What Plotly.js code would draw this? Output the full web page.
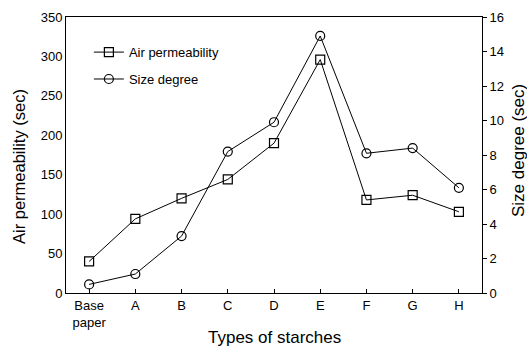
<!DOCTYPE html>
<html>
<head>
<meta charset="utf-8">
<script src="https://cdn.plot.ly/plotly-3.0.1.min.js"></script>
<style>html,body{margin:0;padding:0;background:#fff;}#chart{width:527px;height:348px;}</style>
</head>
<body>
<div id="chart"></div>
<script>
const categories = ["Base<br>paper", "A", "B", "C", "D", "E", "F", "G", "H"];
const airPermeability = [40, 94, 120, 144, 190, 296, 118, 124, 103];
const sizeDegree = [0.5, 1.1, 3.3, 8.2, 9.9, 14.9, 8.1, 8.4, 6.1];
const leftTicks = [0, 50, 100, 150, 200, 250, 300, 350];
const rightTicks = [0, 2, 4, 6, 8, 10, 12, 14, 16];

const fontFam = "Liberation Sans, Arial, sans-serif";
const xIdx = categories.map((c, i) => i);

const traces = [
  {
    x: xIdx, y: airPermeability, name: "Air permeability", type: "scatter", mode: "lines+markers",
    legendgroup: "a",
    line: {color: "#000", width: 1},
    marker: {symbol: "square-open", size: 9, color: "#000", line: {width: 1.2, color: "#000"}},
    yaxis: "y"
  },
  {
    x: xIdx, y: sizeDegree, name: "Size degree", type: "scatter", mode: "lines+markers",
    legendgroup: "b",
    line: {color: "#000", width: 1},
    marker: {symbol: "circle-open", size: 9, color: "#000", line: {width: 1.2, color: "#000"}},
    yaxis: "y2"
  }
];

const layout = {
  width: 527, height: 348,
  margin: {l: 66, r: 45, t: 17, b: 55},
  paper_bgcolor: "#fff", plot_bgcolor: "#fff",
  font: {family: fontFam, color: "#000", size: 13},
  showlegend: true,
  legend: {x: 0.055, y: 0.927, xanchor: "left", yanchor: "top", bgcolor: "rgba(0,0,0,0)",
    font: {size: 13, family: fontFam}, tracegroupgap: 7, itemwidth: 30},
  xaxis: {
    range: [-0.5, 8.5], tickmode: "array", tickvals: xIdx, ticktext: categories,
    tickson: "boundaries", ticks: "inside", ticklen: 4, tickcolor: "#000",
    showline: true, linecolor: "#000", linewidth: 1, mirror: true,
    showgrid: false, zeroline: false, tickfont: {size: 13}
  },
  yaxis: {
    range: [0, 350], tickmode: "array", tickvals: leftTicks,
    ticks: "", showline: true, linecolor: "#000", linewidth: 1,
    showgrid: false, zeroline: false, tickfont: {size: 13}
  },
  yaxis2: {
    range: [0, 16], tickmode: "array", tickvals: rightTicks, overlaying: "y", side: "right",
    ticks: "outside", ticklen: 4, tickcolor: "#000",
    showline: true, linecolor: "#000", linewidth: 1,
    showgrid: false, zeroline: false, tickfont: {size: 13}
  },
  annotations: [
    {text: "Types of starches", xref: "paper", yref: "paper", x: 0.502, y: -0.163,
      xanchor: "center", yanchor: "middle", showarrow: false, font: {size: 17}},
    {text: "Air permeability (sec)", xref: "paper", yref: "paper", x: -0.113, y: 0.46,
      xanchor: "center", yanchor: "middle", textangle: -90, showarrow: false, font: {size: 16.5}},
    {text: "Size degree (sec)", xref: "paper", yref: "paper", x: 1.0865, y: 0.518,
      xanchor: "center", yanchor: "middle", textangle: -90, showarrow: false, font: {size: 17}}
  ]
};

Plotly.newPlot("chart", traces, layout, {displayModeBar: false, staticPlot: true});
</script>
</body>
</html>
